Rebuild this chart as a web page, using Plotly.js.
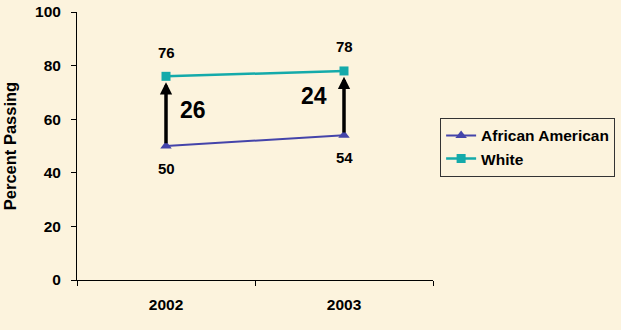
<!DOCTYPE html>
<html>
<head>
<meta charset="utf-8">
<script src="https://cdn.plot.ly/plotly-3.0.1.min.js"></script>
<style>
html,body{margin:0;padding:0;background:#FCF3DD;}
#chart{width:621px;height:330px;}
</style>
</head>
<body>
<div id="chart"></div>
<script>
var years = ["2002", "2003"];
var africanAmerican = [50, 54];
var white = [76, 78];
var gaps = [26, 24];
var seriesNames = ["African American", "White"];

var font = "Liberation Sans, Arial, sans-serif";

var traces = [
  {
    x: years, y: africanAmerican, name: seriesNames[0], type: "scatter", mode: "lines+markers",
    line: {color: "#4444AA", width: 2},
    marker: {symbol: "triangle-up", size: 10, color: "#4444AA"}
  },
  {
    x: years, y: white, name: seriesNames[1], type: "scatter", mode: "lines+markers",
    line: {color: "#14AAAA", width: 2.5},
    marker: {symbol: "square", size: 9, color: "#14AAAA"}
  }
];

var annotations = [];
// data labels
years.forEach(function(yr, i){
  annotations.push({x: i, y: white[i], xref: "x", yref: "y", text: String(white[i]), showarrow: false,
    yshift: 24, font: {family: font, size: 15, color: "#000", weight: "bold"}});
  annotations.push({x: i, y: africanAmerican[i], xref: "x", yref: "y", text: String(africanAmerican[i]), showarrow: false,
    yshift: -22, font: {family: font, size: 15, color: "#000", weight: "bold"}});
});
// gap arrows
years.forEach(function(yr, i){
  annotations.push({x: i, y: white[i] - 2.2, xref: "x", yref: "y",
    ax: i, ay: africanAmerican[i] + 0.5, axref: "x", ayref: "y",
    showarrow: true, arrowhead: 2, arrowsize: 0.7, arrowwidth: 3.5, arrowcolor: "#000", text: ""});
});
// gap numbers
annotations.push({x: 0, y: 63.5, xref: "x", yref: "y", text: String(gaps[0]), showarrow: false,
  xshift: 27, font: {family: font, size: 23, color: "#000", weight: "bold"}});
annotations.push({x: 1, y: 68.5, xref: "x", yref: "y", text: String(gaps[1]), showarrow: false,
  xshift: -30, font: {family: font, size: 23, color: "#000", weight: "bold"}});

var layout = {
  width: 621, height: 330,
  paper_bgcolor: "#FCF3DD", plot_bgcolor: "rgba(0,0,0,0)",
  margin: {l: 77, r: 188, t: 12, b: 50, autoexpand: false},
  font: {family: font, color: "#000"},
  showlegend: true,
  legend: {x: 1.02, xanchor: "left", y: 0.495, yanchor: "middle",
    bordercolor: "#333", borderwidth: 1, bgcolor: "rgba(0,0,0,0)",
    font: {family: font, size: 15.5, color: "#000", weight: "bold"},
    itemwidth: 30, tracegroupgap: 2},
  xaxis: {
    type: "category", range: [-0.5, 1.5], showgrid: false, zeroline: false,
    showline: true, linecolor: "#000", linewidth: 1,
    ticks: "", ticklabelstandoff: 10,
    tickfont: {family: font, size: 15.5, color: "#000", weight: "bold"}
  },
  xaxis2: {
    overlaying: "x", range: [0, 2], dtick: 1, tick0: 0, showgrid: false, zeroline: false,
    ticks: "outside", ticklen: 5, tickcolor: "#000", showticklabels: false, anchor: "y"
  },
  yaxis: {
    range: [0, 100], dtick: 20, showgrid: false, zeroline: false,
    showline: true, linecolor: "#000", linewidth: 1,
    ticks: "outside", ticklen: 5, tickcolor: "#000", ticklabelstandoff: 7,
    tickfont: {family: font, size: 15.5, color: "#000", weight: "bold"},
    title: {text: "Percent Passing", font: {family: font, size: 16.5, color: "#000", weight: "bold"}, standoff: 14}
  },
  annotations: annotations
};

traces.push({x: [0, 2], y: [null, null], xaxis: "x2", yaxis: "y", showlegend: false, hoverinfo: "skip", mode: "lines"});

Plotly.newPlot("chart", traces, layout, {displayModeBar: false, staticPlot: true});
</script>
</body>
</html>
